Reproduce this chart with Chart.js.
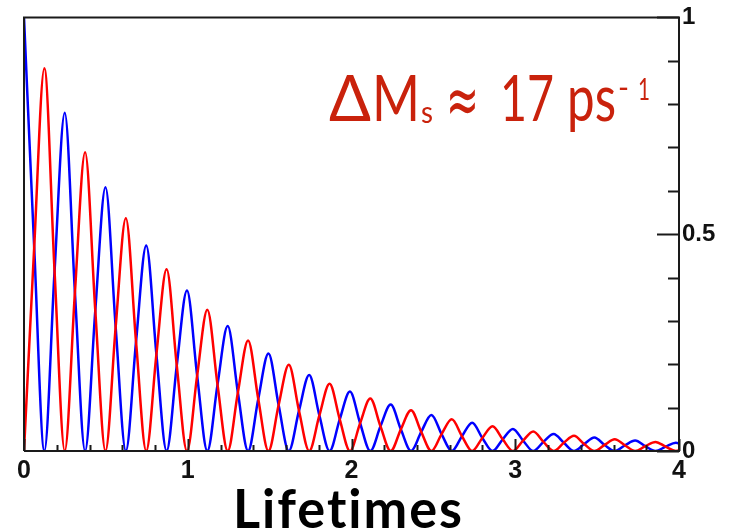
<!DOCTYPE html>
<html>
<head>
<meta charset="utf-8">
<script src="https://cdn.jsdelivr.net/npm/chart.js@4.4.1/dist/chart.umd.min.js"></script>
<style>
  html, body { margin: 0; padding: 0; background: #fff; }
  #wrap { width: 729px; height: 532px; }
</style>
</head>
<body>
<div id="wrap"><canvas id="c" width="729" height="532"></canvas></div>
<script>
const lifetimes = [0.0000, 0.0622, 0.1244, 0.1866, 0.2488, 0.3110, 0.3732, 0.4354, 0.4976, 0.5598,
  0.6220, 0.6842, 0.7464, 0.8086, 0.8708, 0.9330, 0.9952, 1.0574, 1.1196, 1.1818,
  1.2440, 1.3062, 1.3684, 1.4306, 1.4928, 1.5550, 1.6172, 1.6794, 1.7416, 1.8038,
  1.8660, 1.9282, 1.9904, 2.0526, 2.1148, 2.1770, 2.2392, 2.3014, 2.3636, 2.4258,
  2.4880, 2.5502, 2.6124, 2.6746, 2.7368, 2.7990, 2.8612, 2.9234, 2.9856, 3.0478,
  3.1100, 3.1722, 3.2344, 3.2966, 3.3588, 3.4210, 3.4832, 3.5454, 3.6076, 3.6698,
  3.7320, 3.7942, 3.8564, 3.9186, 3.9808, 4.0430];

// Blue curve (unmixed)
const blueValues = [1.000, 0.470, 0, 0.415, 0.780, 0.366, 0, 0.324, 0.608, 0.286,
  0, 0.252, 0.474, 0.223, 0, 0.197, 0.370, 0.174, 0, 0.153,
  0.288, 0.135, 0, 0.120, 0.225, 0.106, 0, 0.093, 0.175, 0.082,
  0, 0.073, 0.137, 0.064, 0, 0.057, 0.107, 0.050, 0, 0.044,
  0.083, 0.039, 0, 0.034, 0.065, 0.030, 0, 0.027, 0.051, 0.024,
  0, 0.021, 0.039, 0.019, 0, 0.016, 0.031, 0.014, 0, 0.013,
  0.024, 0.011, 0, 0.010, 0.019, 0.009];

// Red curve (mixed)
const redValues = [0, 0.470, 0.883, 0.415, 0, 0.366, 0.689, 0.324, 0, 0.286,
  0.537, 0.252, 0, 0.223, 0.419, 0.197, 0, 0.174, 0.326, 0.153,
  0, 0.135, 0.255, 0.120, 0, 0.106, 0.199, 0.093, 0, 0.082,
  0.155, 0.073, 0, 0.064, 0.121, 0.057, 0, 0.050, 0.094, 0.044,
  0, 0.039, 0.073, 0.034, 0, 0.030, 0.057, 0.027, 0, 0.024,
  0.045, 0.021, 0, 0.019, 0.035, 0.016, 0, 0.014, 0.027, 0.013,
  0, 0.011, 0.021, 0.010, 0, 0.009];

// Tick labels / tick positions
const xTickLabels = ['0', '1', '2', '3', '4'];
const yTickLabels = ['0', '0.5', '1'];
const xTickMarks = [0, 0.2, 0.4, 0.6, 0.8, 1, 1.2, 1.4, 1.6, 1.8, 2, 2.2, 2.4, 2.6, 2.8, 3, 3.2, 3.4, 3.6, 3.8, 4];
const yTickMarks = [0, 0.1, 0.2, 0.3, 0.4, 0.5, 0.6, 0.7, 0.8, 0.9, 1];
const xAxisTitle = 'Lifetimes';

const framePlugin = {
  id: 'frame',
  afterDatasetsDraw(chart) {
    const { ctx, chartArea: a, scales } = chart;
    const x = scales.x, y = scales.y;
    ctx.save();
    ctx.strokeStyle = '#1a1a1a';
    ctx.lineWidth = 2;
    ctx.beginPath();
    ctx.moveTo(a.left, a.bottom); ctx.lineTo(a.left, a.top);
    ctx.lineTo(a.right, a.top); ctx.lineTo(a.right, a.bottom);
    ctx.lineTo(a.left, a.bottom);
    ctx.stroke();
    ctx.beginPath();
    yTickMarks.forEach(v => {
      const py = Math.round(y.getPixelForValue(v)) + 0.5;
      const major = Math.abs(v * 2 - Math.round(v * 2)) < 1e-6;
      const len = major ? 22 : 11;
      ctx.moveTo(a.right, py); ctx.lineTo(a.right - len, py);
    });
    xTickMarks.forEach(v => {
      const px = Math.round(x.getPixelForValue(v)) + 0.5;
      const major = Math.abs(v - Math.round(v)) < 1e-6;
      const len = major ? 12 : 6;
      ctx.moveTo(px, a.bottom); ctx.lineTo(px, a.bottom - len);
    });
    ctx.stroke();
    ctx.restore();
  },
  afterDraw(chart) {
    const { ctx } = chart;
    ctx.save();
    // axis title
    ctx.fillStyle = '#000';
    ctx.font = 'bold 53px Lato';
    try { ctx.letterSpacing = '2px'; } catch (e) {}
    ctx.textAlign = 'left';
    ctx.textBaseline = 'alphabetic';
    ctx.fillText(xAxisTitle, 233, 528, 231);
    try { ctx.letterSpacing = '0px'; } catch (e) {}
    // annotation (ΔMs ≈ 17 ps⁻¹)
    ctx.fillStyle = '#c9220c';
    const big = '64px Lato', small = '30px Lato';
    ctx.font = big;
    ctx.fillText('\u0394', 329, 121, 42);
    ctx.fillText('M', 372, 121, 48);
    ctx.font = small;
    ctx.fillText('s', 421, 123, 12);
    ctx.font = '68px "DejaVu Sans"';
    ctx.fillText('\u2248', 446, 123, 33);
    ctx.font = big;
    ctx.fillText('17', 500, 121, 54);
    ctx.fillText('ps', 567, 121, 49);
    ctx.font = small;
    ctx.fillText('-', 618, 98, 11);
    ctx.fillText('1', 638, 100, 12);
    ctx.restore();
  }
};

new Chart(document.getElementById('c'), {
  type: 'line',
  data: {
    datasets: [
      {
        label: 'mixed',
        data: lifetimes.map((t, i) => ({ x: t, y: redValues[i] })),
        borderColor: '#ff0000',
        borderWidth: 2.5,
        pointRadius: 0,
        fill: false,
        cubicInterpolationMode: 'monotone',
        order: 0
      },
      {
        label: 'unmixed',
        data: lifetimes.map((t, i) => ({ x: t, y: blueValues[i] })),
        borderColor: '#0000ff',
        borderWidth: 2.5,
        pointRadius: 0,
        fill: false,
        cubicInterpolationMode: 'monotone',
        order: 1
      }
    ]
  },
  options: {
    responsive: false,
    animation: false,
    devicePixelRatio: 1,
    layout: { padding: { left: 24, top: 17, right: 0, bottom: 0 } },
    plugins: { legend: { display: false }, tooltip: { enabled: false } },
    scales: {
      x: {
        type: 'linear',
        min: 0, max: 4,
        grid: { display: false, drawTicks: false },
        border: { display: false },
        ticks: {
          stepSize: 1,
          padding: 5,
          color: '#111',
          font: { family: 'Liberation Sans', weight: 'bold', size: 25 },
          callback: (v) => xTickLabels[Math.round(v)]
        },
        afterFit: (s) => { s.height = 81; }
      },
      y: {
        type: 'linear',
        position: 'right',
        min: 0, max: 1,
        grid: { display: false, drawTicks: false },
        border: { display: false },
        ticks: {
          stepSize: 0.5,
          padding: 3,
          color: '#111',
          font: { family: 'Liberation Sans', weight: 'bold', size: 24 },
          callback: (v) => yTickLabels[Math.round(v * 2)]
        },
        afterFit: (s) => { s.width = 50; }
      }
    }
  },
  plugins: [framePlugin]
});
</script>
</body>
</html>
